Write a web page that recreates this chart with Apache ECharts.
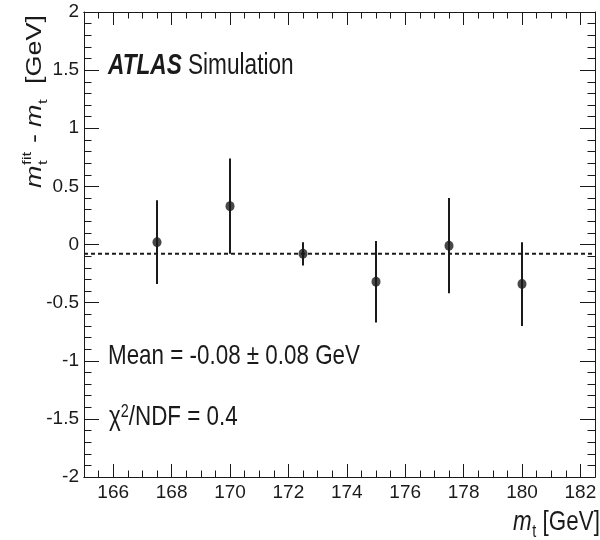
<!DOCTYPE html>
<html><head><meta charset="utf-8">
<script src="https://cdn.jsdelivr.net/npm/echarts@6/dist/echarts.min.js"></script>
<style>html,body{margin:0;padding:0;background:#fff}#c{width:600px;height:540px}</style>
</head><body><div id="c"></div>
<script>
const topMass = [167.5, 170, 172.5, 175, 177.5, 180];
const deltaMass = [0.02, 0.33, -0.08, -0.32, -0.01, -0.34];
const deltaErr = [0.36, 0.41, 0.10, 0.35, 0.41, 0.36];
const meanValue = -0.08;
const xMajorTicks = [166, 168, 170, 172, 174, 176, 178, 180, 182];
const xRange = [165, 182.5];
const yRange = [-2, 2];

const INK = '#1a1a1a';
const FF = 'Liberation Sans';
const LABEL_FF = "'Liberation Sans Narrow', 'Liberation Sans'";
const SX = 0.8;

function xAx(pos, major, labels) {
  const a = {
    type: 'value', min: xRange[0], max: xRange[1], interval: 0.5, position: pos,
    axisLine: { show: true, onZero: false, lineStyle: { color: INK, width: 1 } },
    axisTick: { show: true, inside: true, length: major ? 13 : 6.5, lineStyle: { color: INK, width: 1 } },
    axisLabel: { show: false },
    splitLine: { show: false }
  };
  if (major) {
    a.axisTick.customValues = xMajorTicks;
    if (labels) {
      a.axisLabel = { show: true, customValues: xMajorTicks, fontSize: 19, fontFamily: LABEL_FF, color: INK, margin: 6 };
    }
  }
  return a;
}
function yAx(pos, labels) {
  return {
    type: 'value', min: yRange[0], max: yRange[1], interval: 0.5, position: pos,
    axisLine: { show: true, onZero: false, lineStyle: { color: INK, width: 1 } },
    axisTick: { show: true, inside: true, length: 15, lineStyle: { color: INK, width: 1 } },
    minorTick: { show: true, splitNumber: 5, length: 7.5, lineStyle: { color: INK, width: 1 } },
    axisLabel: labels ? { show: true, fontSize: 19, fontFamily: LABEL_FF, color: INK, margin: 5 } : { show: false },
    splitLine: { show: false }, minorSplitLine: { show: false }
  };
}

const txt = (x, y, text, size, extra) => ({
  type: 'text', x: x, y: y,
  style: Object.assign({ text: text, fontSize: size, fontFamily: FF, fill: INK, verticalAlign: 'middle' }, extra || {})
});

const option = {
  animation: false,
  backgroundColor: '#fff',
  grid: { left: 84, right: 5, top: 12, bottom: 63, containLabel: false },
  xAxis: [xAx('bottom', false, false), xAx('bottom', true, true), xAx('top', false, false), xAx('top', true, false)],
  yAxis: [yAx('left', true), yAx('right', false)],
  series: [
    {
      type: 'line', xAxisIndex: 0, yAxisIndex: 0, silent: true, symbol: 'none', z: 1,
      data: [[xRange[0], meanValue], [xRange[1], meanValue]],
      lineStyle: { color: INK, width: 2, type: [4, 3] }
    },
    {
      type: 'custom', xAxisIndex: 0, yAxisIndex: 0, silent: true, z: 2,
      data: topMass.map((m, i) => [m, deltaMass[i], deltaErr[i]]),
      encode: { x: 0, y: 1 },
      renderItem: function (params, api) {
        const x = api.value(0), y = api.value(1), e = api.value(2);
        const p1 = api.coord([x, y - e]), p2 = api.coord([x, y + e]);
        return { type: 'line', shape: { x1: p1[0], y1: p1[1], x2: p2[0], y2: p2[1] }, style: { stroke: INK, lineWidth: 2 } };
      }
    },
    {
      type: 'scatter', xAxisIndex: 0, yAxisIndex: 0, z: 3, symbol: 'circle', symbolSize: [9, 10],
      data: topMass.map((m, i) => [m, deltaMass[i]]),
      itemStyle: { color: INK }
    }
  ],
  graphic: [
    {
      type: 'text', x: 108, y: 66, scaleX: 0.78,
      style: { text: '{b|ATLAS} Simulation', fontSize: 29, fontFamily: FF, fill: INK, verticalAlign: 'middle',
        rich: { b: { fontSize: 29, fontFamily: FF, fontWeight: 'bold', fontStyle: 'italic', fill: INK } } }
    },
    Object.assign(txt(108, 356, 'Mean = -0.08 \u00b1 0.08 GeV', 28), { scaleX: SX }),
    Object.assign(txt(109, 417, '\u03c7{s|2}/NDF = 0.4', 28, { rich: { s: { fontSize: 18, fontFamily: FF, fill: INK, verticalAlign: 'top' } } }), { scaleX: SX }),
    {
      type: 'group', x: 42, y: 188, rotation: Math.PI / 2, scaleY: SX,
      children: [
        txt(0, -9, 'm', 27, { fontStyle: 'italic' }),
        txt(23, -18, 'fit', 17),
        txt(23, 1, 't', 17),
        txt(45, -9, '-', 27),
        txt(61, -9, 'm', 27, { fontStyle: 'italic' }),
        txt(84, 1, 't', 17),
        txt(104, -9, '[GeV]', 27)
      ]
    },
    {
      type: 'group', x: 513, y: 531, scaleX: SX,
      children: [
        txt(0, -9, 'm', 28, { fontStyle: 'italic' }),
        txt(24, 1, 't', 18),
        txt(37, -9, '[GeV]', 28)
      ]
    }
  ]
};
const chart = echarts.init(document.getElementById('c'), null, { renderer: 'canvas' });
chart.setOption(option);
</script>
</body></html>
